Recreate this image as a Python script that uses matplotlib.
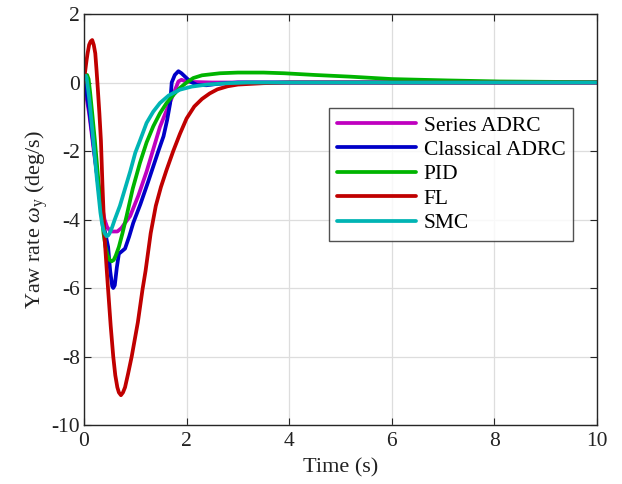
import matplotlib
matplotlib.use("Agg")
import matplotlib.pyplot as plt

# ---- data ----
t_series = [0, 0.1, 0.2, 0.3, 0.4, 0.45, 0.5, 0.55, 0.65, 0.73, 0.8, 0.9, 1.06, 1.22, 1.35, 1.48, 1.6, 1.74, 1.84, 1.9, 2.0, 2.5, 3, 4, 6, 8, 10]
v_series = [0, -0.9, -2.1, -3.2, -4.0, -4.22, -4.32, -4.35, -4.35, -4.25, -4.1, -3.9, -3.3, -2.6, -1.95, -1.3, -0.85, -0.35, 0.03, 0.08, 0.02, 0, 0, 0, 0, 0, 0]

t_classic = [0, 0.05, 0.1, 0.2, 0.3, 0.4, 0.47, 0.51, 0.55, 0.57, 0.6, 0.64, 0.68, 0.72, 0.8, 0.88, 0.96, 1.1, 1.25, 1.35, 1.45, 1.55, 1.62, 1.68, 1.71, 1.77, 1.84, 1.9, 1.97, 2.07, 2.2, 2.39, 2.6, 3, 4, 6, 8, 10]
v_classic = [0, -0.3, -0.8, -2.0, -3.3, -4.3, -4.8, -5.5, -5.95, -6.0, -5.92, -5.4, -5.0, -4.95, -4.85, -4.5, -4.1, -3.55, -2.9, -2.45, -2.0, -1.57, -1.1, -0.6, 0.0, 0.22, 0.33, 0.27, 0.17, 0.03, -0.07, -0.08, -0.04, 0, 0, 0, 0, 0]

t_pid = [0, 0.03, 0.06, 0.09, 0.12, 0.16, 0.21, 0.3, 0.38, 0.42, 0.46, 0.5, 0.54, 0.58, 0.62, 0.68, 0.75, 0.83, 0.95, 1.09, 1.22, 1.35, 1.48, 1.61, 1.75, 1.87, 2.0, 2.13, 2.3, 2.65, 3.0, 3.5, 3.9, 4.5, 5.2, 6.0, 7.1, 8.1, 9, 10]
v_pid = [0.15, 0.2, 0.22, 0.1, -0.3, -0.9, -1.67, -3.2, -4.4, -4.8, -5.05, -5.18, -5.22, -5.18, -5.05, -4.8, -4.4, -3.9, -3.1, -2.35, -1.75, -1.28, -0.9, -0.6, -0.35, -0.16, 0.0, 0.13, 0.21, 0.27, 0.29, 0.29, 0.27, 0.22, 0.17, 0.1, 0.06, 0.03, 0.02, 0.01]

t_fl = [0, 0.02, 0.05, 0.07, 0.1, 0.13, 0.16, 0.19, 0.22, 0.245, 0.27, 0.3, 0.33, 0.36, 0.4, 0.44, 0.47, 0.52, 0.57, 0.61, 0.65, 0.68, 0.72, 0.76, 0.8, 0.86, 0.93, 0.99, 1.05, 1.14, 1.2, 1.3, 1.4, 1.5, 1.61, 1.74, 1.87, 2.0, 2.15, 2.3, 2.45, 2.6, 2.8, 3.0, 3.5, 4, 5, 6, 8, 10]
v_fl = [0, 0.3, 0.65, 0.85, 1.1, 1.2, 1.24, 1.1, 0.85, 0.35, -0.2, -0.9, -1.7, -3.0, -4.5, -5.4, -6.05, -7.1, -8.0, -8.55, -8.9, -9.05, -9.13, -9.05, -8.9, -8.5, -8.0, -7.5, -7.0, -6.05, -5.5, -4.4, -3.6, -3.05, -2.55, -2.0, -1.5, -1.05, -0.7, -0.48, -0.32, -0.2, -0.11, -0.06, -0.02, 0, 0, 0, 0, 0]

t_smc = [0, 0.03, 0.05, 0.08, 0.1, 0.13, 0.18, 0.25, 0.32, 0.35, 0.38, 0.41, 0.44, 0.47, 0.5, 0.55, 0.6, 0.7, 0.8, 0.9, 1.0, 1.09, 1.22, 1.35, 1.48, 1.65, 1.87, 2.1, 2.4, 2.8, 3.2, 4, 6, 8, 10]
v_smc = [0.1, 0.2, 0.15, -0.2, -0.45, -0.9, -1.67, -2.8, -3.8, -4.1, -4.3, -4.42, -4.49, -4.47, -4.4, -4.22, -4.0, -3.6, -3.1, -2.6, -2.05, -1.7, -1.18, -0.85, -0.6, -0.38, -0.21, -0.12, -0.06, -0.02, 0, 0, 0, 0, 0]

labels = ["Series ADRC", "Classical ADRC", "PID", "FL", "SMC"]
x_ticks = [0, 2, 4, 6, 8, 10]
y_ticks = [2, 0, -2, -4, -6, -8, -10]

colors = ["#BF00BF", "#0000C8", "#00B400", "#C00000", "#00B4B4"]

plt.rcParams['font.family'] = ['Liberation Serif', 'DejaVu Serif']
plt.rcParams['mathtext.fontset'] = 'custom'
plt.rcParams['mathtext.rm'] = 'Liberation Serif'
plt.rcParams['mathtext.it'] = 'Liberation Serif:italic'
plt.rcParams['axes.unicode_minus'] = False

fig = plt.figure(figsize=(6.22, 4.84), dpi=100)
L, R, T, B = 84, 597, 14, 425
ax = fig.add_axes([L/622, 1-B/484, (R-L)/622, (B-T)/484])

series = [(t_series, v_series), (t_classic, v_classic), (t_pid, v_pid), (t_fl, v_fl), (t_smc, v_smc)]
for (t, v), lab, c in zip(series, labels, colors):
    ax.plot(t, v, color=c, lw=2.7, label=lab, solid_capstyle='round', solid_joinstyle='round')

ax.set_xlim(0, 10)
ax.set_ylim(-10, 2)
ax.set_xticks(x_ticks)
ax.set_yticks(y_ticks)
ax.grid(True, color='#DDDDDD', lw=0.9)
ax.set_axisbelow(True)
ax.tick_params(direction='in', top=True, right=True, labelsize=15.5, colors='#262626', length=5)
ax.tick_params(axis='x', pad=5)
ax.tick_params(axis='y', pad=3)
ax.tick_params(labelcolor='#222222')
for s in ax.spines.values():
    s.set_color('#262626')
    s.set_linewidth(1.0)

ax.set_xlabel("Time (s)", fontsize=16, color='#222222', labelpad=5)
ax.set_ylabel(r"Yaw rate $\omega_{\mathrm{y}}$ (deg/s)", fontsize=16, color='#222222', labelpad=1)

leg = ax.legend(loc='upper left', bbox_to_anchor=((329-L)/(R-L), 1-(108-T)/(B-T)),
                fontsize=15.5, frameon=True, fancybox=False, handlelength=3.7,
                handletextpad=0.35, borderpad=0.35, labelspacing=0.2, borderaxespad=0)
leg.get_frame().set_edgecolor('#262626')
leg.get_frame().set_linewidth(1.0)

fig.savefig("out.png", dpi=100)
